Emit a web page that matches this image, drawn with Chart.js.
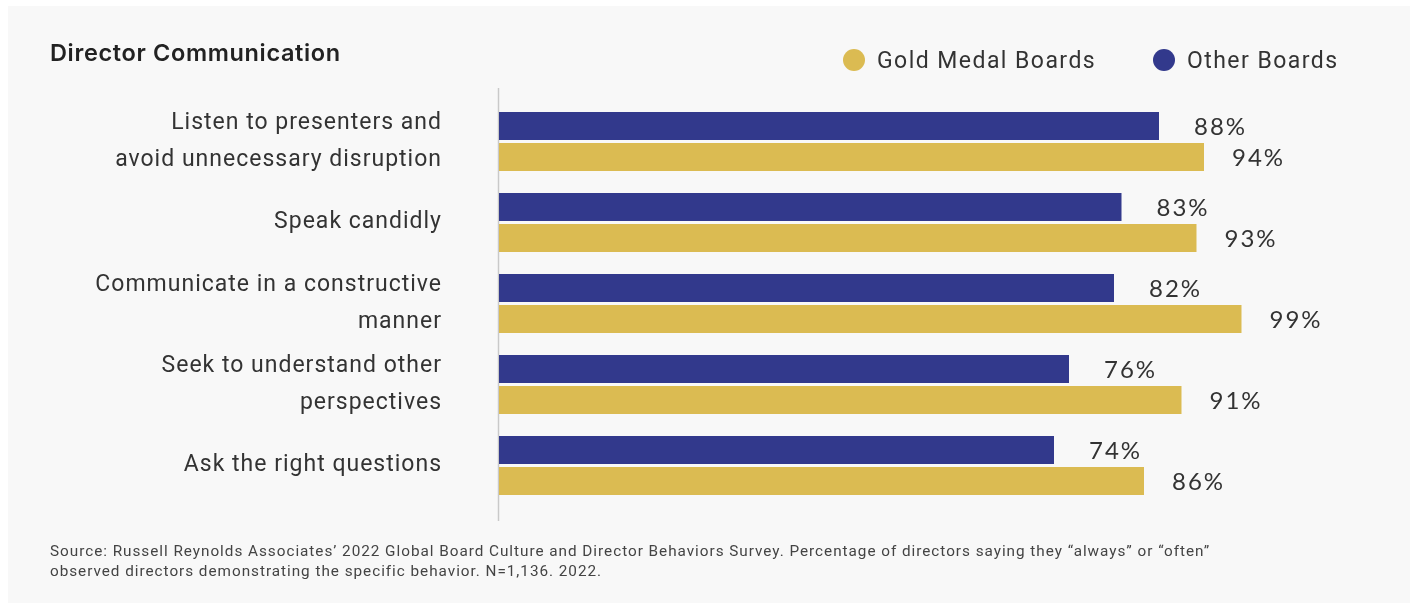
<!DOCTYPE html>
<html>
<head>
<meta charset="utf-8">
<script src="https://cdn.jsdelivr.net/npm/chart.js@4.4.1/dist/chart.umd.min.js"></script>
<style>
  html, body { margin: 0; padding: 0; background: #fff; }
  #wrap { position: relative; width: 1418px; height: 606px; overflow: hidden; }
  #panel { position: absolute; left: 8px; top: 6px; width: 1402px; height: 597px; background: #f8f8f8; }
  #chart { position: absolute; left: 0; top: 0; }
  #title { position: absolute; left: 50px; top: 38px; font: 600 23.5px Inter, sans-serif; color: #222; letter-spacing: 0.65px; }
  .leg { position: absolute; top: 47px; font: 400 23px Roboto, sans-serif; color: #333; letter-spacing: 1.45px; }
  .leg i { position: absolute; left: -34px; top: 2px; width: 22px; height: 22px; border-radius: 50%; }
  #source { position: absolute; left: 50px; top: 541px; font: 400 15.3px Roboto, sans-serif; color: #444; line-height: 20px; letter-spacing: 0.97px; white-space: nowrap; }
</style>
</head>
<body>
<div id="wrap">
  <div id="panel"></div>
  <canvas id="chart" width="1418" height="606"></canvas>
  <div id="title">Director Communication</div>
  <div class="leg" style="left:877px"><i style="background:#dbbb52"></i>Gold Medal Boards</div>
  <div class="leg" style="left:1187px"><i style="background:#32398c"></i>Other Boards</div>
  <div id="source">Source: Russell Reynolds Associates’ 2022 Global Board Culture and Director Behaviors Survey. Percentage of directors saying they “always” or “often”<br>observed directors demonstrating the specific behavior. N=1,136. 2022.</div>
</div>
<script>
  // data
  const behaviors = [
    ["Listen to presenters and", "avoid unnecessary disruption"],
    "Speak candidly",
    ["Communicate in a constructive", "manner"],
    ["Seek to understand other", "perspectives"],
    "Ask the right questions"
  ]
  const otherBoards = [88, 83, 82, 76, 74]
  const goldMedalBoards = [94, 93, 99, 91, 86]

  const NAVY = "#32398c"
  const GOLD = "#dbbb52"

  // wider letter spacing for the category labels
  const spacing = {
    id: "spacing",
    beforeDraw(chart) {
      chart.ctx.letterSpacing = "1px"
    }
  }

  // percent labels next to each bar
  const valueLabels = {
    id: "valueLabels",
    afterDatasetsDraw(chart) {
      const ctx = chart.ctx
      ctx.save()
      ctx.font = "400 24px Lato, sans-serif"
      ctx.letterSpacing = "2px"
      ctx.fillStyle = "#333"
      ctx.textBaseline = "middle"
      ctx.textAlign = "left"
      chart.data.datasets.forEach((ds, i) => {
        let meta = chart.getDatasetMeta(i)
        let off = i == 0 ? 35 : 28
        meta.data.forEach((bar, j) => {
          ctx.fillText(ds.data[j] + "%", bar.x + off, bar.y + 1)
        })
      })
      ctx.restore()
    }
  }

  // vertical axis line, a bit taller than the plot area
  const axisLine = {
    id: "axisLine",
    beforeDatasetsDraw(chart) {
      const ctx = chart.ctx
      const a = chart.chartArea
      ctx.save()
      ctx.strokeStyle = "#c9c9c9"
      ctx.lineWidth = 1.5
      ctx.beginPath()
      ctx.moveTo(a.left - 0.5, a.top - 13)
      ctx.lineTo(a.left - 0.5, a.bottom + 15)
      ctx.stroke()
      ctx.restore()
    }
  }

  let ctx = document.getElementById("chart").getContext("2d")
  new Chart(ctx, {
    type: "bar",
    data: {
      labels: behaviors,
      datasets: [
        {
          label: "Other Boards",
          data: otherBoards,
          backgroundColor: NAVY,
          borderWidth: 0,
          categoryPercentage: 0.768,
          barPercentage: 0.9
        },
        {
          label: "Gold Medal Boards",
          data: goldMedalBoards,
          backgroundColor: GOLD,
          borderWidth: 0,
          categoryPercentage: 0.768,
          barPercentage: 0.9
        }
      ]
    },
    options: {
      indexAxis: "y",
      responsive: false,
      animation: false,
      layout: { padding: { left: 0, right: 169, top: 101, bottom: 100 } },
      plugins: {
        legend: { display: false },
        tooltip: { enabled: false }
      },
      scales: {
        x: { display: false, min: 0, max: 100 },
        y: {
          afterFit: s => { s.width = 499 },
          grid: { display: false },
          border: { display: false },
          ticks: {
            padding: 49,
            color: "#333",
            font: { family: "Roboto", size: 23, lineHeight: 1.6 }
          }
        }
      }
    },
    plugins: [spacing, axisLine, valueLabels]
  })
</script>
</body>
</html>
